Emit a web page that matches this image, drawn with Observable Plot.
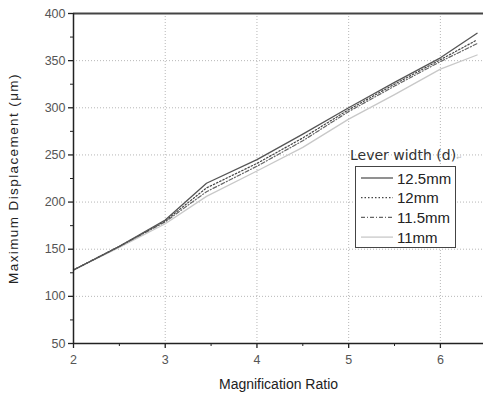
<!DOCTYPE html>
<html><head><meta charset="utf-8">
<script src="https://cdn.jsdelivr.net/npm/d3@7"></script>
<script src="https://cdn.jsdelivr.net/npm/@observablehq/plot@0.6"></script>
<style>
body{margin:0;background:#fff;font-family:"Liberation Sans",Arial,sans-serif;}
#wrap{position:relative;width:483px;height:394px;}
#legend{position:absolute;left:0;top:0;}
</style></head>
<body><div id="wrap"></div>
<script>
const ratios = [2, 2.5, 3, 3.45, 4, 4.5, 5, 5.5, 6, 6.4];
const w125 = [128, 153, 181, 220, 245, 272, 300, 327, 353, 379];
const w120 = [128, 153, 180, 215, 241, 268, 298, 325, 351, 372];
const w115 = [128, 153, 179, 211, 238, 265, 296, 323, 349, 368];
const w110 = [128, 152, 177, 206, 233, 258, 288, 314, 341, 356];
const seriesNames = ["12.5mm", "12mm", "11.5mm", "11mm"];
const xMajor = [2, 3, 4, 5, 6];
const xMinor = [2.5, 3.5, 4.5, 5.5];
const yMajor = [50, 100, 150, 200, 250, 300, 350, 400];
const yMinor = [75, 125, 175, 225, 275, 325, 375];
const xGrid = [3, 4, 5, 6];
const yGrid = [100, 150, 200, 250, 300, 350];

const styles = {
  "12.5mm": {stroke: "#555", dash: null, w: 1.3},
  "12mm": {stroke: "#444", dash: "1.5,2", w: 1.2},
  "11.5mm": {stroke: "#666", dash: "4,2,1,2", w: 1.2},
  "11mm": {stroke: "#c8c8c8", dash: null, w: 1.3}
};
const allVals = [w125, w120, w115, w110];
const rows = [];
seriesNames.forEach((s, i) => ratios.forEach((r, j) => rows.push({s, x: r, y: allVals[i][j]})));

const lineMarks = seriesNames.slice().reverse().map(s =>
  Plot.line(rows.filter(d => d.s === s), {x: "x", y: "y", stroke: styles[s].stroke,
    strokeWidth: styles[s].w, strokeDasharray: styles[s].dash, curve: "linear"}));

const plot = Plot.plot({
  width: 483, height: 394,
  marginLeft: 73, marginTop: 13, marginBottom: 51, marginRight: 0,
  style: {fontFamily: "'Liberation Sans', Arial, sans-serif", fontSize: "12.5px", color: "#333", background: "#fff"},
  x: {domain: [2, 6.47]},
  y: {domain: [50, 400]},
  marks: [
    Plot.gridY(yGrid, {stroke: "#999", strokeOpacity: 0.7, strokeDasharray: "1,2"}),
    Plot.gridX(xGrid, {stroke: "#999", strokeOpacity: 0.7, strokeDasharray: "1,2"}),
    ...lineMarks,
    Plot.axisY(yMajor, {tickSize: 5, tickPadding: 3, stroke: "#222", strokeWidth: 1.3, fill: "#555", fontSize: 12.5, label: "Maximum Displacement (\u03bcm)", labelAnchor: "center", labelArrow: "none", labelOffset: 62}),
    Plot.axisY(yMinor, {tickSize: 3, text: null, stroke: "#222", label: null}),
    Plot.axisX(xMajor, {tickSize: 5, tickPadding: 7, stroke: "#222", strokeWidth: 1.3, fill: "#555", fontSize: 12.5, label: "Magnification Ratio", labelAnchor: "center", labelArrow: "none", labelOffset: 45}),
    Plot.axisX(xMinor, {tickSize: 3, text: null, stroke: "#222", label: null}),
    Plot.ruleY([50], {stroke: "#222", strokeWidth: 1.5}),
    Plot.ruleY([400], {stroke: "#444", strokeWidth: 2.2}),
    Plot.ruleX([2], {stroke: "#222", strokeWidth: 1.5})
  ]
});
d3.select(plot).selectAll("g[aria-label='y-axis label'] text").attr("fill", "#222").attr("font-size", 13.5).style("font-size", "13.5px").style("letter-spacing", "1.4px").attr("dy", "-0.2em");
d3.select(plot).selectAll("g[aria-label='x-axis label'] text").attr("fill", "#222").attr("font-size", 14).style("font-size", "14px");
document.getElementById("wrap").appendChild(plot);

// legend
const lg = d3.select("#wrap").append("svg").attr("id", "legend").attr("width", 483).attr("height", 394);
lg.append("text").attr("x", 350).attr("y", 160).attr("fill", "#333").style("font-family", "'DejaVu Sans', sans-serif").style("font-size", "14px").text("Lever width (d)")
  .append("tspan").attr("fill", "#bbb").style("font-size", "7px").text("\u21b5");
lg.append("rect").attr("x", 355.5).attr("y", 166.5).attr("width", 100).attr("height", 81).attr("fill", "#fff").attr("stroke", "#444").attr("stroke-width", 1);
seriesNames.forEach((s, i) => {
  const y = 178 + i * 19.7;
  const st = styles[s];
  lg.append("line").attr("x1", 361).attr("x2", 393).attr("y1", y).attr("y2", y).attr("stroke", st.stroke).attr("stroke-width", st.w).attr("stroke-dasharray", st.dash);
  lg.append("text").attr("x", 397).attr("y", y + 5.5).attr("fill", "#222").style("font-family", "'Liberation Sans', Arial, sans-serif").style("font-size", "15px").text(s);
});
</script></body></html>
